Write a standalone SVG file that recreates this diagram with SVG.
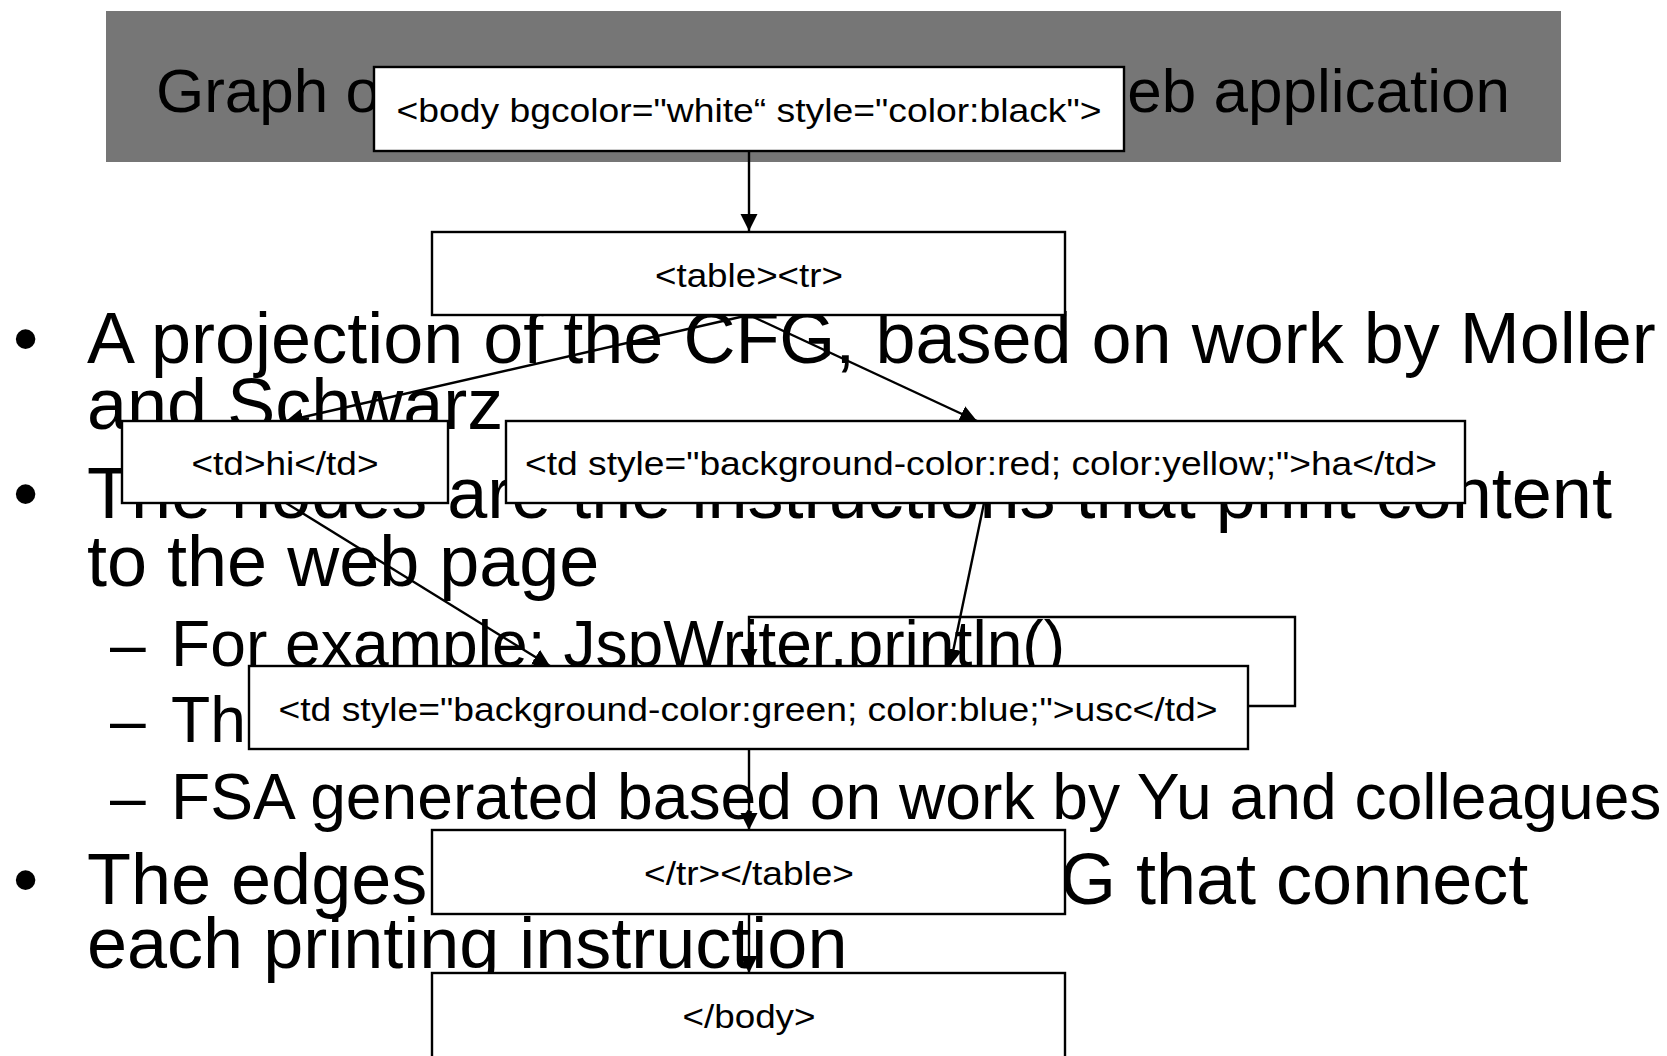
<svg xmlns="http://www.w3.org/2000/svg" width="1667" height="1056" viewBox="0 0 1667 1056">
  <defs>
    <style>
      .title { font-family: "Liberation Sans", Arial, sans-serif; font-size: 62px; fill: #000; }
      .l1 { font-family: "Liberation Sans", Arial, sans-serif; font-size: 72px; fill: #000; }
      .l2 { font-family: "Liberation Sans", Arial, sans-serif; font-size: 64.2px; fill: #000; }
      .box { fill: #fff; stroke: #000; stroke-width: 2.4; }
      .lbl { font-family: "Liberation Sans", Arial, sans-serif; font-size: 33px; fill: #000; text-anchor: middle; }
      .edge { fill: none; stroke: #000; stroke-width: 2.4; }
    </style>
    <marker id="arrow" markerWidth="18" markerHeight="18" refX="17" refY="8.5" orient="auto" markerUnits="userSpaceOnUse">
      <path d="M0,0 L17,8.5 L0,17 z" fill="#000"/>
    </marker>
  </defs>

  <rect width="1667" height="1056" fill="#fff"/>

  <!-- slide title bar -->
  <g id="title">
    <rect x="106" y="11" width="1455" height="151" fill="#767676"/>
    <text class="title" x="156" y="112">Graph o</text>
    <text class="title" x="1510" y="112" text-anchor="end">eb application</text>
  </g>

  <!-- bullet text -->
  <g id="bullets">
    <text class="l1" x="13" y="363">•</text>
    <text class="l1" x="87" y="363">A projection of the CFG, based on work by Moller</text>
    <text class="l1" x="87" y="429">and Schwarz</text>
    <text class="l1" x="13" y="518">•</text>
    <text class="l1" x="87" y="518">The nodes are the instructions that print content</text>
    <text class="l1" x="87" y="586">to the web page</text>
    <text class="l2" x="110" y="666">–</text>
    <text class="l2" x="171" y="666">For example: JspWriter.println()</text>
    <text class="l2" x="110" y="742">–</text>
    <text class="l2" x="171" y="742">The</text>
    <text class="l2" x="110" y="819">–</text>
    <text class="l2" x="171" y="819">FSA generated based on work by Yu and colleagues</text>
    <text class="l1" x="13" y="904">•</text>
    <text class="l1" x="87" y="904">The edges</text>
    <text class="l1" x="1060" y="904">G that connect</text>
    <text class="l1" x="87" y="968">each printing instruction</text>
  </g>

  <!-- connectors -->
  <g id="edges">
    <path class="edge" d="M749,151 L749,231" marker-end="url(#arrow)"/>
    <path class="edge" d="M749,315 L286,421" marker-end="url(#arrow)"/>
    <path class="edge" d="M749,315 L977,421" marker-end="url(#arrow)"/>
    <path class="edge" d="M286,503 L550,666" marker-end="url(#arrow)"/>
    <path class="edge" d="M984,503 L950,666" marker-end="url(#arrow)"/>
    <path class="edge" d="M1248,706 L1295,706 L1295,617 L749,617 L749,666" marker-end="url(#arrow)"/>
    <path class="edge" d="M749,749 L749,830" marker-end="url(#arrow)"/>
    <path class="edge" d="M749,914 L749,973" marker-end="url(#arrow)"/>
  </g>

  <!-- nodes -->
  <g id="n-body">
    <rect class="box" x="374" y="67" width="750" height="84"/>
    <text class="lbl" x="749" y="122" textLength="705" lengthAdjust="spacingAndGlyphs">&lt;body bgcolor="white“ style="color:black"&gt;</text>
  </g>
  <g id="n-table">
    <rect class="box" x="432" y="232" width="633" height="83"/>
    <text class="lbl" x="749" y="287" textLength="188" lengthAdjust="spacingAndGlyphs">&lt;table&gt;&lt;tr&gt;</text>
  </g>
  <g id="n-td-hi">
    <rect class="box" x="122" y="421" width="326" height="82"/>
    <text class="lbl" x="285" y="475" textLength="187" lengthAdjust="spacingAndGlyphs">&lt;td&gt;hi&lt;/td&gt;</text>
  </g>
  <g id="n-td-ha">
    <rect class="box" x="506" y="421" width="959" height="82"/>
    <text class="lbl" x="981" y="475" textLength="912" lengthAdjust="spacingAndGlyphs">&lt;td style="background-color:red; color:yellow;"&gt;ha&lt;/td&gt;</text>
  </g>
  <g id="n-td-usc">
    <rect class="box" x="249" y="666" width="999" height="83"/>
    <text class="lbl" x="748" y="721" textLength="939" lengthAdjust="spacingAndGlyphs">&lt;td style="background-color:green; color:blue;"&gt;usc&lt;/td&gt;</text>
  </g>
  <g id="n-table-end">
    <rect class="box" x="432" y="830" width="633" height="84"/>
    <text class="lbl" x="749" y="885" textLength="210" lengthAdjust="spacingAndGlyphs">&lt;/tr&gt;&lt;/table&gt;</text>
  </g>
  <g id="n-body-end">
    <rect class="box" x="432" y="973" width="633" height="100"/>
    <text class="lbl" x="749" y="1028" textLength="133" lengthAdjust="spacingAndGlyphs">&lt;/body&gt;</text>
  </g>
</svg>
